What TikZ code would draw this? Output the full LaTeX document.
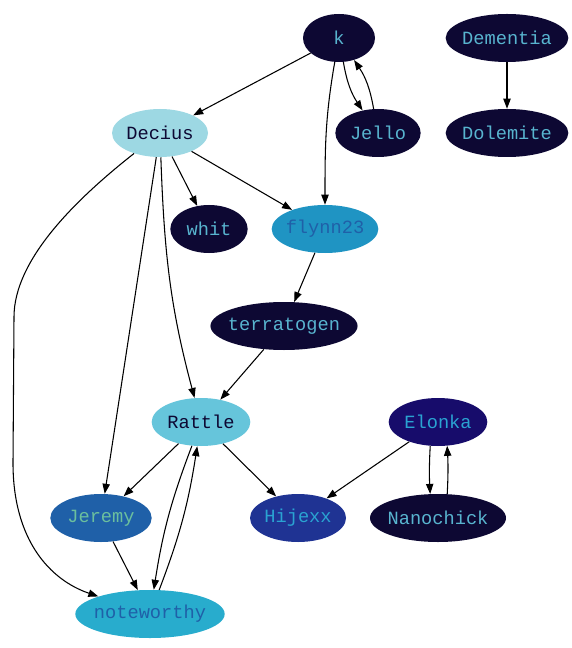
\documentclass[tikz,border=0pt]{standalone}
\usepackage{fontspec}
\setmonofont{Liberation Mono}
\usepackage{xcolor}
\usetikzlibrary{arrows.meta,shapes.geometric}
\definecolor{nickNavy}{HTML}{0D0833}
\definecolor{nickTeal}{HTML}{58B4CF}
\definecolor{nickSky}{HTML}{2AA3D2}
\definecolor{nickPale}{HTML}{9DD8E3}
\definecolor{nickRattle}{HTML}{66C5DB}
\definecolor{nickFlynn}{HTML}{1F94C3}
\definecolor{nickBlue}{HTML}{1F60A8}
\definecolor{nickGreen}{HTML}{6BBF9E}
\definecolor{nickHijexx}{HTML}{1F3393}
\definecolor{nickElonka}{HTML}{170C6B}
\definecolor{nickNote}{HTML}{28ACCD}
\tikzset{
  nickbox/.style={ellipse, draw=none, minimum width=#1, minimum height=36pt,
                  inner xsep=-3pt, inner ysep=0pt, font=\ttfamily\fontsize{14}{16}\selectfont},
  nickbox/.default=54pt,
  nickarr/.style={-{Triangle[length=7.5pt,width=5.5pt]}, line width=0.8pt, draw=black},
}
\begin{document}
\begin{tikzpicture}[x=0.75pt,y=-0.75pt]
    \useasboundingbox (0,0) rectangle (571,648);
    \node[nickbox, fill=nickNavy, text=nickTeal] (k) at (339,38) {k};
    \node[nickbox=92pt, fill=nickNavy, text=nickTeal] (dementia) at (507,38) {Dementia};
    \node[nickbox=72pt, fill=nickPale, text=nickNavy] (decius) at (160,133) {Decius};
    \node[nickbox=64pt, fill=nickNavy, text=nickTeal] (jello) at (378,133) {Jello};
    \node[nickbox=92pt, fill=nickNavy, text=nickTeal] (dolemite) at (507,133) {Dolemite};
    \node[nickbox=58pt, fill=nickNavy, text=nickTeal] (whit) at (209,229) {whit};
    \node[nickbox=80pt, fill=nickFlynn, text=nickBlue] (flynn23) at (325,229) {flynn23};
    \node[nickbox=108pt, fill=nickNavy, text=nickTeal] (terratogen) at (284,326) {terratogen};
    \node[nickbox=74pt, fill=nickRattle, text=nickNavy] (rattle) at (201,422) {Rattle};
    \node[nickbox=74pt, fill=nickElonka, text=nickSky] (elonka) at (438,422) {Elonka};
    \node[nickbox=76pt, fill=nickBlue, text=nickGreen] (jeremy) at (101,518) {Jeremy};
    \node[nickbox=72pt, fill=nickHijexx, text=nickSky] (hijexx) at (298,518) {Hijexx};
    \node[nickbox=102pt, fill=nickNavy, text=nickTeal] (nanochick) at (438,518) {Nanochick};
    \node[nickbox=112pt, fill=nickNote, text=nickBlue] (noteworthy) at (150,614) {noteworthy};
    \draw[nickarr] (k)--(decius);
    \draw[nickarr] (k) to[out=-100,in=90] (flynn23);
    \draw[nickarr] (k) to[bend right=12] (jello);
    \draw[nickarr] (jello) to[bend right=12] (k);
    \draw[nickarr] (dementia)--(dolemite);
    \draw[nickarr] (decius)--(whit);
    \draw[nickarr] (decius)--(flynn23);
    \draw[nickarr] (decius)--(jeremy);
    \draw[nickarr] (decius) to[out=-88,in=105] (rattle);
    \draw[nickarr] (decius) .. controls (75,200) and (14,260) .. (14,317)
        -- (13,463) .. controls (13,540) and (50,580) .. (noteworthy);
    \draw[nickarr] (flynn23)--(terratogen);
    \draw[nickarr] (terratogen)--(rattle);
    \draw[nickarr] (rattle)--(jeremy);
    \draw[nickarr] (rattle) to[bend right=6] (noteworthy);
    \draw[nickarr] (noteworthy) to[bend right=6] (rattle);
    \draw[nickarr] (rattle)--(hijexx);
    \draw[nickarr] (elonka)--(hijexx);
    \draw[nickarr] (elonka.252) to[bend right=3] (nanochick.108);
    \draw[nickarr] (nanochick.69) to[bend right=3] (elonka.291);
    \draw[nickarr] (jeremy)--(noteworthy);
  \end{tikzpicture}
\end{document}
